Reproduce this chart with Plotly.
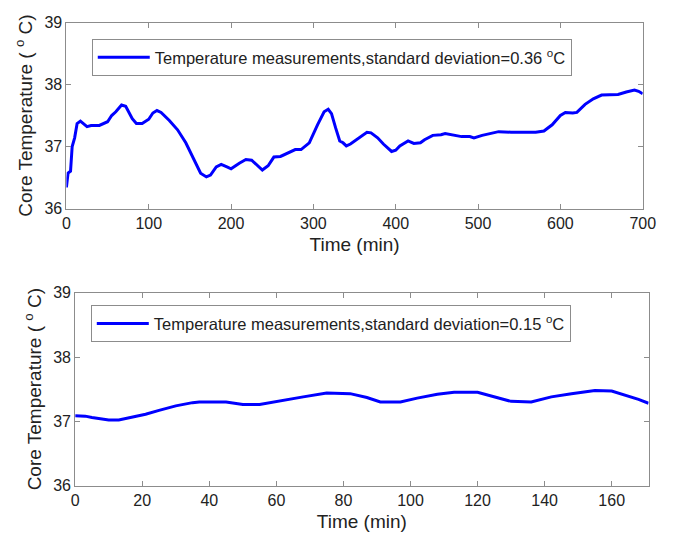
import plotly.graph_objects as go

# Top panel: long recording (0-700 min)
time_top = [0, 2, 5, 7, 10, 13, 17, 20, 25, 30, 40, 50, 55, 60, 67, 72, 80, 85, 92, 100,
            105, 110, 115, 125, 135, 145, 155, 163, 170, 175, 182, 188, 195, 200, 210, 218,
            225, 232, 238, 245, 252, 260, 270, 278, 285, 295, 305, 313, 318, 322, 327, 332,
            336, 340, 345, 355, 365, 370, 378, 385, 395, 400, 405, 415, 422, 430, 435, 445,
            455, 460, 470, 480, 490, 495, 505, 515, 525, 540, 555, 570, 580, 590, 600, 606,
            615, 620, 630, 640, 650, 660, 670, 680, 690, 695, 700]
temp_top = [36.34, 36.57, 36.60, 37.00, 37.14, 37.37, 37.41, 37.37, 37.32, 37.34, 37.34, 37.40,
            37.50, 37.56, 37.67, 37.65, 37.45, 37.37, 37.37, 37.44, 37.54, 37.58, 37.55, 37.42,
            37.27, 37.06, 36.78, 36.57, 36.51, 36.54, 36.67, 36.71, 36.67, 36.64, 36.73, 36.79,
            36.78, 36.69, 36.62, 36.69, 36.83, 36.84, 36.90, 36.95, 36.95, 37.06, 37.35, 37.56,
            37.60, 37.53, 37.30, 37.09, 37.06, 37.01, 37.04, 37.14, 37.23, 37.22, 37.14, 37.04,
            36.92, 36.94, 37.01, 37.09, 37.05, 37.06, 37.11, 37.18, 37.19, 37.21, 37.18, 37.16,
            37.16, 37.14, 37.18, 37.21, 37.24, 37.23, 37.23, 37.23, 37.25, 37.35, 37.50, 37.55,
            37.54, 37.55, 37.68, 37.77, 37.83, 37.84, 37.84, 37.88, 37.91, 37.89, 37.85]

# Bottom panel: short recording (0-171 min)
time_bottom = [0, 3, 5, 8, 10, 13, 15, 18, 21, 25, 30, 35, 37, 45, 48, 50, 55, 58, 62, 68, 75,
               78, 82, 87, 91, 97, 102, 108, 113, 120, 125, 130, 136, 142, 148, 155, 160, 165,
               168, 171]
temp_bottom = [37.085, 37.08, 37.06, 37.04, 37.02, 37.02, 37.04, 37.07, 37.11, 37.17, 37.24,
               37.29, 37.30, 37.30, 37.28, 37.26, 37.26, 37.29, 37.33, 37.38, 37.44, 37.44,
               37.43, 37.37, 37.30, 37.30, 37.36, 37.42, 37.45, 37.45, 37.38, 37.31, 37.30,
               37.38, 37.43, 37.48, 37.47, 37.39, 37.34, 37.28]

label_top = "Temperature measurements,standard deviation=0.36 <sup>o</sup>C"
label_bottom = "Temperature measurements,standard deviation=0.15 <sup>o</sup>C"
y_ticks = [36, 37, 38, 39]
x_ticks_top = [0, 100, 200, 300, 400, 500, 600, 700]
x_ticks_bottom = [0, 20, 40, 60, 80, 100, 120, 140, 160]

FONT = "Liberation Sans, Arial, sans-serif"
W, H = 684, 542

fig = go.Figure()
fig.add_trace(go.Scatter(x=time_top, y=temp_top, mode="lines", name=label_top,
                         line=dict(color="#0000FF", width=3), xaxis="x", yaxis="y",
                         legend="legend"))
fig.add_trace(go.Scatter(x=time_bottom, y=temp_bottom, mode="lines", name=label_bottom,
                         line=dict(color="#0000FF", width=3), xaxis="x2", yaxis="y2",
                         legend="legend2"))

axis_common = dict(showline=True, linecolor="#8c8c8c", linewidth=1, mirror="ticks",
                   ticks="inside", ticklen=5, tickcolor="#8c8c8c", showgrid=False,
                   zeroline=False, tickfont=dict(size=16, color="#222"))

legend_common = dict(xanchor="left", yanchor="top", bgcolor="white",
                     bordercolor="#8c8c8c", borderwidth=1, itemwidth=52,
                     font=dict(size=16.5, color="#222"))

fig.update_layout(
    width=W, height=H,
    margin=dict(l=0, r=0, t=0, b=0),
    paper_bgcolor="white", plot_bgcolor="white",
    font=dict(family=FONT, size=16, color="#222"),
    xaxis=dict(domain=[64 / W, 655 / W], range=[0, 700], tickvals=x_ticks_top,
               anchor="y", title=dict(text="Time (min)", standoff=6), **axis_common),
    yaxis=dict(domain=[1 - 207 / H, 1 - 15 / H], range=[36, 39], tickvals=y_ticks,
               anchor="x", title=dict(text="Core Temperature ( <sup>o</sup> C)", standoff=6),
               **axis_common),
    xaxis2=dict(domain=[73 / W, 661 / W], range=[0, 171], tickvals=x_ticks_bottom,
                anchor="y2", title=dict(text="Time (min)", standoff=6), **axis_common),
    yaxis2=dict(domain=[1 - 493 / H, 1 - 294 / H], range=[36, 39], tickvals=y_ticks,
                anchor="x2", title=dict(text="Core Temperature ( <sup>o</sup> C)", standoff=6),
                **axis_common),
    legend=dict(x=90 / W, y=1 - 32 / H, **legend_common),
    legend2=dict(x=89 / W, y=1 - 307 / H, **legend_common),
    showlegend=True,
)

fig.write_html("out.html")
